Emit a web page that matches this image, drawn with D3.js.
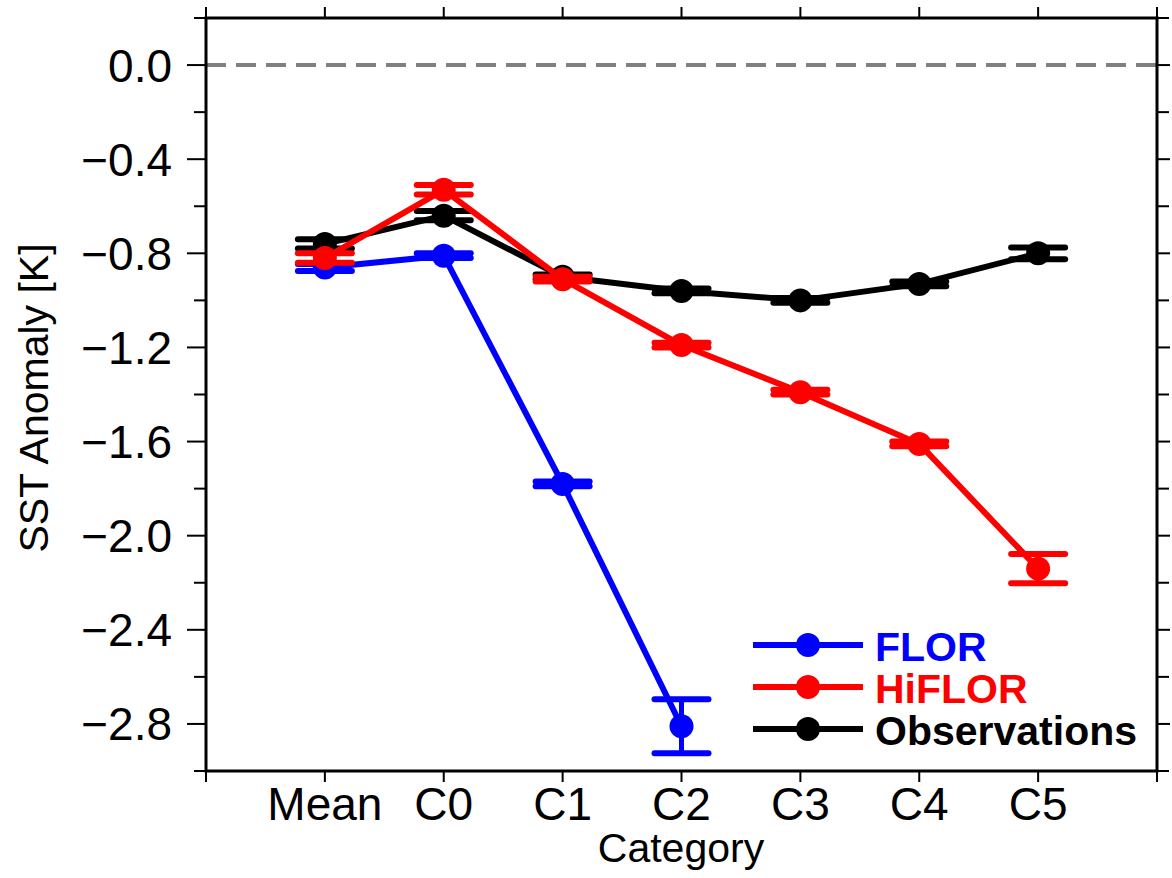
<!DOCTYPE html>
<html><head><meta charset="utf-8">
<script src="https://cdn.jsdelivr.net/npm/d3@7"></script>
<style>
body{margin:0;background:#fff}
text{font-family:"Liberation Sans",Arial,Helvetica,sans-serif}
</style></head>
<body><svg id="chart" width="1172" height="878"></svg>
<script>
const categories = ["Mean","C0","C1","C2","C3","C4","C5"];
const florValues = [-0.86,-0.81,-1.78,-2.81];
const florErrors = [0.015,0.01,0.01,0.115];
const hiflorValues = [-0.82,-0.53,-0.91,-1.19,-1.39,-1.61,-2.14];
const hiflorErrors = [0.02,0.02,0.01,0.01,0.01,0.01,0.062];
const obsValues = [-0.76,-0.64,-0.90,-0.96,-1.00,-0.93,-0.80];
const obsErrors = [0.02,0.02,0.01,0.01,0.01,0.01,0.025];
const yTickValues = [0.0,-0.4,-0.8,-1.2,-1.6,-2.0,-2.4,-2.8];
const yTickLabels = ["0.0","\u22120.4","\u22120.8","\u22121.2","\u22121.6","\u22122.0","\u22122.4","\u22122.8"];
const yMinorValues = [0.2,-0.2,-0.6,-1.0,-1.4,-1.8,-2.2,-2.6,-3.0];
const seriesNames = ["FLOR","HiFLOR","Observations"];
const seriesColors = ["#0000ff","#ff0000","#000000"];

const svg = d3.select("#chart");
const L=206, R=1157, T=18, B=771;
const x = d3.scaleLinear().domain([0,8]).range([L,R]);
const y = d3.scaleLinear().domain([-3.0,0.2]).range([B,T]);

// zero dashed line
svg.append("line").attr("x1",L).attr("x2",R).attr("y1",y(0)).attr("y2",y(0))
  .attr("stroke","#808080").attr("stroke-width",4).attr("stroke-dasharray","20,10");

const series = [
  {name:seriesNames[0], color:seriesColors[0], v:florValues, e:florErrors},
  {name:seriesNames[2], color:seriesColors[2], v:obsValues, e:obsErrors},
  {name:seriesNames[1], color:seriesColors[1], v:hiflorValues, e:hiflorErrors}
];
const line = d3.line().x((d,i)=>x(i+1)).y(d=>y(d));
const capW = 27;
series.forEach(s=>{
  const g = svg.append("g");
  g.append("path").datum(s.v).attr("d",line).attr("fill","none")
    .attr("stroke",s.color).attr("stroke-width",6).attr("stroke-linejoin","round");
  s.v.forEach((v,i)=>{
    const cx = x(i+1), e = s.e[i];
    g.append("line").attr("x1",cx).attr("x2",cx).attr("y1",y(v-e)).attr("y2",y(v+e))
      .attr("stroke",s.color).attr("stroke-width",5);
    [v-e,v+e].forEach(c=>{
      g.append("line").attr("x1",cx-capW).attr("x2",cx+capW).attr("y1",y(c)).attr("y2",y(c))
        .attr("stroke",s.color).attr("stroke-width",6).attr("stroke-linecap","round");
    });
    g.append("circle").attr("cx",cx).attr("cy",y(v)).attr("r",12).attr("fill",s.color);
  });
});

// frame
svg.append("rect").attr("x",L).attr("y",T).attr("width",R-L).attr("height",B-T)
  .attr("fill","none").attr("stroke","#000").attr("stroke-width",3);

// x ticks
const xt = d3.range(0,9);
xt.forEach(t=>{
  svg.append("line").attr("x1",x(t)).attr("x2",x(t)).attr("y1",T).attr("y2",T-11).attr("stroke","#000").attr("stroke-width",2);
  svg.append("line").attr("x1",x(t)).attr("x2",x(t)).attr("y1",B).attr("y2",B+11).attr("stroke","#000").attr("stroke-width",2);
});
categories.forEach((c,i)=>{
  svg.append("text").attr("x",x(i+1)).attr("y",820).attr("text-anchor","middle")
    .attr("font-size",46).text(c);
});
// y ticks
yTickValues.forEach((t,i)=>{
  svg.append("line").attr("x1",L).attr("x2",L-19).attr("y1",y(t)).attr("y2",y(t)).attr("stroke","#000").attr("stroke-width",2);
  svg.append("line").attr("x1",R).attr("x2",R+13).attr("y1",y(t)).attr("y2",y(t)).attr("stroke","#000").attr("stroke-width",2);
  svg.append("text").attr("x",172).attr("y",y(t)).attr("dy","0.36em").attr("text-anchor","end")
    .attr("font-size",46).text(yTickLabels[i]);
});
yMinorValues.forEach(t=>{
  svg.append("line").attr("x1",L).attr("x2",L-12).attr("y1",y(t)).attr("y2",y(t)).attr("stroke","#000").attr("stroke-width",2);
  svg.append("line").attr("x1",R).attr("x2",R+12).attr("y1",y(t)).attr("y2",y(t)).attr("stroke","#000").attr("stroke-width",2);
});

// axis titles
svg.append("text").attr("x",681).attr("y",862).attr("text-anchor","middle").attr("font-size",41).text("Category");
svg.append("text").attr("transform","translate(48,398) rotate(-90)").attr("text-anchor","middle")
  .attr("font-size",41).text("SST Anomaly [K]");

// legend
const legendOrder = [0,1,2];
legendOrder.forEach((k,i)=>{
  const ly = 645 + i*42;
  svg.append("line").attr("x1",753).attr("x2",863).attr("y1",ly).attr("y2",ly)
    .attr("stroke",seriesColors[k]).attr("stroke-width",6);
  svg.append("circle").attr("cx",808).attr("cy",ly).attr("r",12).attr("fill",seriesColors[k]);
  svg.append("text").attr("x",875).attr("y",ly+16).attr("font-size",41).attr("font-weight","bold")
    .attr("fill",seriesColors[k]).text(seriesNames[k]);
});
</script></body></html>
